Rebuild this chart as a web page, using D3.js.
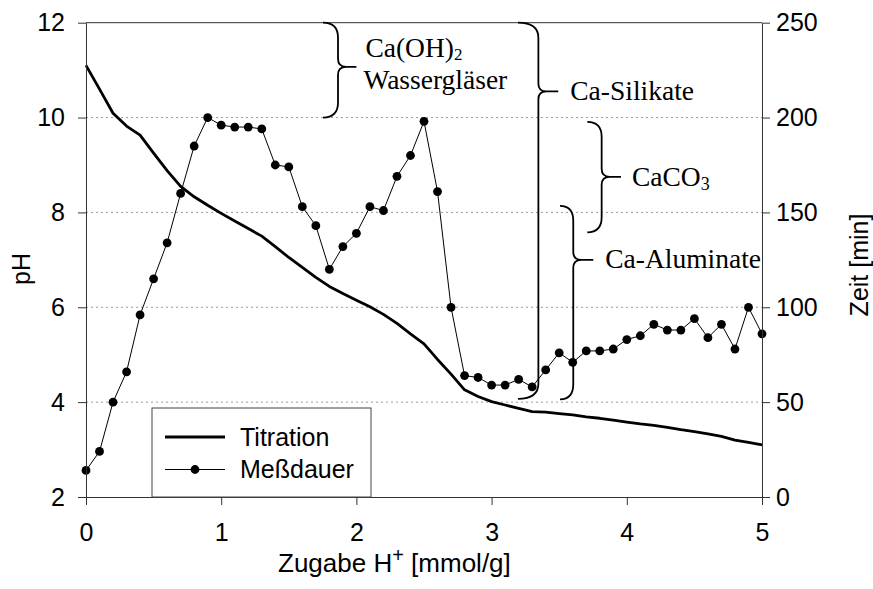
<!DOCTYPE html>
<html>
<head>
<meta charset="utf-8">
<script src="https://cdn.jsdelivr.net/npm/d3@7"></script>
<style>
  html, body { margin: 0; padding: 0; background: #fff; }
  svg { display: block; }
  .sans { font-family: "Liberation Sans", Arial, Helvetica, sans-serif; }
  .serif { font-family: "Liberation Serif", "Times New Roman", serif; }
</style>
</head>
<body>
<svg id="chart" width="873" height="589"></svg>
<script>
// Zugabe H+ in mmol/g, sampled every 0.1
const zugabe = d3.range(0, 51).map(i => +(i / 10).toFixed(1));

// Titration curve (pH, left axis)
const titrationPH = [
  11.10, 10.60, 10.09, 9.82, 9.63, 9.25, 8.88, 8.55, 8.33, 8.15,
  7.98, 7.82, 7.66, 7.50, 7.28, 7.05, 6.84, 6.63, 6.44, 6.29,
  6.15, 6.01, 5.85, 5.66, 5.44, 5.23, 4.90, 4.59, 4.26, 4.12,
  4.01, 3.94, 3.87, 3.80, 3.79, 3.76, 3.73, 3.69, 3.66, 3.62,
  3.58, 3.54, 3.51, 3.47, 3.42, 3.38, 3.33, 3.28, 3.20, 3.15,
  3.10
];

// Meßdauer (min, right axis)
const messdauerMin = [
  14, 24, 50, 66, 96, 115, 134, 160, 185, 200,
  196, 195, 195, 194, 175, 174, 153, 143, 120, 132,
  139, 153, 151, 169, 180, 198, 161, 100, 64, 63,
  59, 59, 62, 58, 67, 76, 71, 77, 77, 78,
  83, 85, 91, 88, 88, 94, 84, 91, 78, 100,
  86
];

// Tick values
const xTicks = [0, 1, 2, 3, 4, 5];
const phTicks = [2, 4, 6, 8, 10, 12];
const zeitTicks = [0, 50, 100, 150, 200, 250];
const gridPH = [4, 6, 8, 10];

// Curly-brace annotations: x = stem ends / stem / tip (mmol/g), y = top / tip / bottom (pH)
const braceLabels = [["Ca(OH)", "2", "Wassergläser"], ["Ca-Silikate"], ["CaCO", "3"], ["Ca-Aluminate"]];
const braceX = [[1.753, 1.864, 2.00], [3.195, 3.346, 3.493], [3.708, 3.814, 3.957], [3.506, 3.604, 3.752]];
const braceY = [[12.0, 11.07, 10.0], [12.0, 10.55, 4.07], [9.91, 8.75, 7.58], [8.14, 7.00, 4.06]];

const L = 86, R = 762, T = 22.7, B = 497;

const svg = d3.select("#chart");
const x = d3.scaleLinear().domain([0, 5]).range([L, R]);
const yPH = d3.scaleLinear().domain([2, 12]).range([B, T]);
const yZeit = d3.scaleLinear().domain([0, 250]).range([B, T]);

// dotted grid
svg.append("g").selectAll("line").data(gridPH).join("line")
  .attr("x1", L).attr("x2", R)
  .attr("y1", d => yPH(d)).attr("y2", d => yPH(d))
  .attr("stroke", "#9a9a9a").attr("stroke-width", 1)
  .attr("stroke-dasharray", "2,3");

// frame top line
svg.append("line").attr("x1", L).attr("x2", R).attr("y1", T).attr("y2", T)
  .attr("stroke", "#333").attr("stroke-width", 1);

// Titration line
const titData = zugabe.map((z, i) => [z, titrationPH[i]]);
svg.append("path").datum(titData)
  .attr("fill", "none").attr("stroke", "#000").attr("stroke-width", 2.8)
  .attr("stroke-linejoin", "round")
  .attr("d", d3.line().x(d => x(d[0])).y(d => yPH(d[1])));

// Meßdauer line + markers
const mdData = zugabe.map((z, i) => [z, messdauerMin[i]]);
svg.append("path").datum(mdData)
  .attr("fill", "none").attr("stroke", "#000").attr("stroke-width", 1)
  .attr("d", d3.line().x(d => x(d[0])).y(d => yZeit(d[1])));
svg.append("g").selectAll("circle").data(mdData).join("circle")
  .attr("cx", d => x(d[0])).attr("cy", d => yZeit(d[1])).attr("r", 4.4)
  .attr("fill", "#000");

// braces
function bracePath(bx, by) {
  const x0 = x(bx[0]), xs = x(bx[1]), xt = x(bx[2]);
  const y0 = yPH(by[0]), yt = yPH(by[1]), y1 = yPH(by[2]);
  const r = 15, r2 = 8;
  return `M${x0},${y0} Q${xs},${y0} ${xs},${y0 + r} L${xs},${yt - r2} Q${xs},${yt} ${xs + r2},${yt} L${xt},${yt}` +
         ` M${x0},${y1} Q${xs},${y1} ${xs},${y1 - r} L${xs},${yt + r2} Q${xs},${yt} ${xs + r2},${yt} L${xt},${yt}`;
}
svg.append("g").selectAll("path").data(braceX).join("path")
  .attr("d", (d, i) => bracePath(d, braceY[i]))
  .attr("fill", "none").attr("stroke", "#000").attr("stroke-width", 1.8);

// brace labels
const lab = svg.append("g").attr("class", "serif").attr("font-size", 27.5).attr("fill", "#000");
// Ca(OH)2 / Wassergläser as one two-line label
const twoLine = lab.append("text").attr("x", x(braceX[0][2]) + 9).attr("y", 57);
twoLine.append("tspan").text(braceLabels[0][0]);
twoLine.append("tspan").attr("font-size", 17).attr("dy", 3).text(braceLabels[0][1]);
twoLine.append("tspan").attr("x", x(braceX[0][2]) + 7).attr("dy", 29).text(braceLabels[0][2]);
// Ca-Silikate
lab.append("text").attr("x", x(braceX[1][2]) + 12).attr("y", 100).text(braceLabels[1][0]);
// CaCO3
const caco = lab.append("text").attr("x", x(braceX[2][2]) + 11).attr("y", 185.5);
caco.append("tspan").text(braceLabels[2][0]);
caco.append("tspan").attr("font-size", 18).attr("dy", 4).text(braceLabels[2][1]);
// Ca-Aluminate
lab.append("text").attr("x", x(braceX[3][2]) + 12).attr("y", 268).text(braceLabels[3][0]);

// axes
const fs = 25;
function styleAxis(g) {
  g.attr("class", "sans").attr("font-size", fs).attr("font-family", null);
  g.select(".domain").attr("stroke", "#333");
  g.selectAll(".tick line").attr("stroke", "#333");
  g.selectAll(".tick text").attr("fill", "#000");
}
svg.append("g").attr("transform", `translate(0,${B})`)
  .call(d3.axisBottom(x).tickValues(xTicks).tickFormat(d3.format("d")).tickSize(8).tickSizeOuter(0).tickPadding(18))
  .call(styleAxis);
svg.append("g").attr("transform", `translate(${L},0)`)
  .call(d3.axisLeft(yPH).tickValues(phTicks).tickFormat(d3.format("d")).tickSize(8).tickSizeOuter(0).tickPadding(13))
  .call(styleAxis);
svg.append("g").attr("transform", `translate(${R},0)`)
  .call(d3.axisRight(yZeit).tickValues(zeitTicks).tickFormat(d3.format("d")).tickSize(8).tickSizeOuter(0).tickPadding(6))
  .call(styleAxis);

// axis titles
const t = svg.append("g").attr("class", "sans").attr("font-size", fs).attr("fill", "#000");
const xt = t.append("text").attr("x", 278).attr("y", 572).attr("font-size", 26);
xt.append("tspan").text("Zugabe H");
xt.append("tspan").attr("font-size", 20).attr("dy", -10).text("+");
xt.append("tspan").attr("dy", 10).text(" [mmol/g]");
t.append("text").attr("transform", "translate(30,269) rotate(-90)")
  .attr("text-anchor", "middle").text("pH");
t.append("text").attr("transform", "translate(868,265) rotate(-90)")
  .attr("text-anchor", "middle").text("Zeit [min]");

// legend
const lg = svg.append("g").attr("class", "sans").attr("font-size", fs);
lg.append("rect").attr("x", 152).attr("y", 408).attr("width", 219).attr("height", B - 408)
  .attr("fill", "#fff").attr("stroke", "#444").attr("stroke-width", 1);
lg.append("line").attr("x1", 165).attr("x2", 225).attr("y1", 437).attr("y2", 437)
  .attr("stroke", "#000").attr("stroke-width", 2.8);
lg.append("text").attr("x", 240).attr("y", 446).text("Titration");
lg.append("line").attr("x1", 165).attr("x2", 225).attr("y1", 469.5).attr("y2", 469.5)
  .attr("stroke", "#000").attr("stroke-width", 1);
lg.append("circle").attr("cx", 195).attr("cy", 469.5).attr("r", 4.4).attr("fill", "#000");
lg.append("text").attr("x", 240).attr("y", 478).text("Meßdauer");
</script>
</body>
</html>
